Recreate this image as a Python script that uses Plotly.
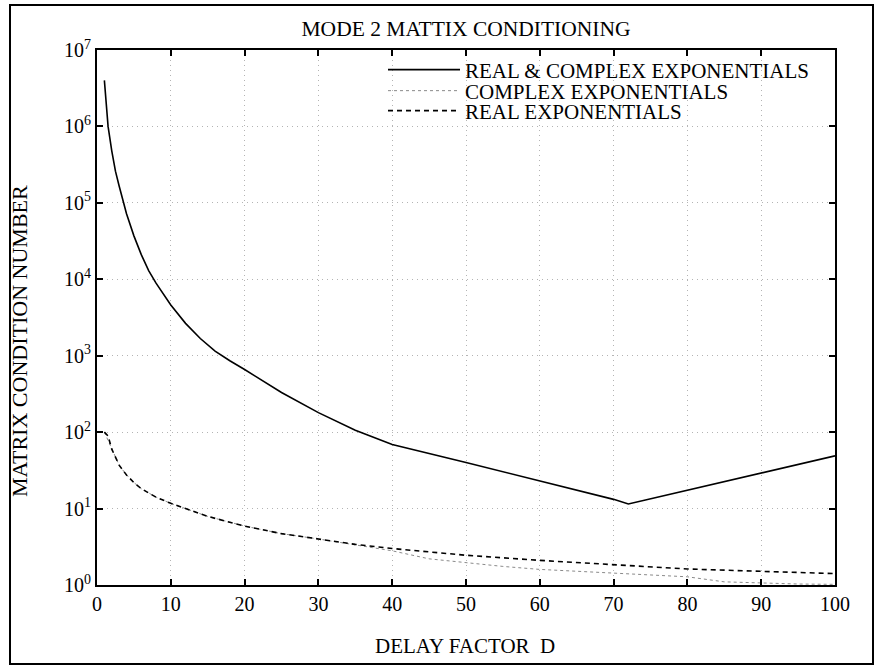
import plotly.graph_objects as go

# ---- data ----
d_both = [1, 1.5, 2, 2.5, 3, 4, 5, 6, 7, 8, 10, 12, 14, 16, 18, 20, 25, 30, 35, 40, 50, 60, 70, 72, 80, 90, 100]
cond_both = [4.0e6, 1.0e6, 4.8e5, 2.6e5, 1.66e5, 7.2e4, 3.7e4, 2.1e4, 1.3e4, 8.9e3, 4.6e3, 2.65e3,
             1.68e3, 1.15e3, 860, 660, 330, 180, 106, 69, 40, 23, 13.2, 11.5, 17.4, 29.5, 49]

d_complex = [1, 2, 3, 4, 5, 6, 8, 10, 12, 15, 20, 25, 30, 35, 40, 45, 50, 55, 60, 70, 80, 85, 90, 95, 100]
cond_complex = [100, 60, 37, 27.5, 21.9, 18.2, 14.1, 11.7, 10.0, 7.9, 5.9, 4.7, 4.0, 3.35, 2.8, 2.2, 1.95,
                1.75, 1.6, 1.43, 1.28, 1.1, 1.06, 1.03, 1.02]

d_real = [1, 1.5, 2, 3, 4, 5, 6, 8, 10, 12, 15, 20, 25, 30, 35, 40, 50, 60, 70, 80, 90, 100]
cond_real = [100, 89, 60, 37, 27.5, 21.9, 18.2, 14.1, 11.7, 10.0, 7.9, 5.9, 4.7, 4.0, 3.4, 3.0, 2.45,
             2.1, 1.86, 1.62, 1.51, 1.41]

names = ["REAL & COMPLEX EXPONENTIALS", "COMPLEX EXPONENTIALS", "REAL EXPONENTIALS"]

x_ticks = [0, 10, 20, 30, 40, 50, 60, 70, 80, 90, 100]
y_tickvals = [1, 10, 100, 1e3, 1e4, 1e5, 1e6, 1e7]
y_ticktext = ["10<sup>0</sup>", "10<sup>1</sup>", "10<sup>2</sup>", "10<sup>3</sup>",
              "10<sup>4</sup>", "10<sup>5</sup>", "10<sup>6</sup>", "10<sup>7</sup>"]

FONT = "Liberation Serif, Times New Roman, serif"

fig = go.Figure()
fig.add_trace(go.Scatter(x=d_both, y=cond_both, mode="lines", name=names[0],
                         line=dict(color="black", width=1.6), legend="legend"))
fig.add_trace(go.Scatter(x=d_complex, y=cond_complex, mode="lines", name=names[1],
                         line=dict(color="#8a8a8a", width=1, dash="dot"), legend="legend2"))
fig.add_trace(go.Scatter(x=d_real, y=cond_real, mode="lines", name=names[2],
                         line=dict(color="black", width=1.6, dash="5px,4px"), legend="legend3"))

axis_common = dict(showline=True, linecolor="black", linewidth=2, mirror="ticks",
                   ticks="inside", ticklen=6, tickwidth=1.5, tickcolor="black",
                   showgrid=True, gridcolor="#b4b4b4", griddash="1px,4px", gridwidth=1,
                   zeroline=False, tickfont=dict(family=FONT, size=20, color="black"))

fig.update_xaxes(range=[0, 100], tickvals=x_ticks, **axis_common)
fig.update_yaxes(type="log", range=[0, 7], tickvals=y_tickvals, ticktext=y_ticktext, **axis_common)

leg = dict(x=(383 - 97) / 738, xanchor="left", yanchor="middle", bgcolor="rgba(0,0,0,0)",
           borderwidth=0, itemwidth=72, font=dict(family=FONT, size=21, color="black"))
fig.update_layout(
    width=878, height=667,
    margin=dict(l=97, r=43, t=50, b=82),
    paper_bgcolor="white", plot_bgcolor="white",
    font=dict(family=FONT, color="black"),
    showlegend=True,
    title=dict(text="MODE 2 MATTIX CONDITIONING", x=0.5, xref="paper", y=1 - 28 / 667,
               yref="container", yanchor="middle", font=dict(family=FONT, size=21.5, color="black")),
    legend=dict(y=(585 - 70) / 535, visible=True, **leg),
    legend2=dict(y=(585 - 91) / 535, visible=True, **leg),
    legend3=dict(y=(585 - 111) / 535, visible=True, **leg),
    annotations=[
        dict(text="DELAY FACTOR&nbsp; D", xref="paper", yref="paper", x=(465 - 97) / 738,
             y=(585 - 646) / 535, xanchor="center", yanchor="middle", showarrow=False,
             font=dict(family=FONT, size=21, color="black")),
        dict(text="MATRIX CONDITION NUMBER", xref="paper", yref="paper", x=(19 - 97) / 738,
             y=(585 - 341) / 535, xanchor="center", yanchor="middle", textangle=-90,
             showarrow=False, font=dict(family=FONT, size=22, color="black")),
    ],
    shapes=[dict(type="rect", xref="paper", yref="paper",
                 x0=(10 - 97) / 738, x1=(873 - 97) / 738,
                 y0=(585 - 664) / 535, y1=(585 - 5) / 535,
                 line=dict(color="black", width=2))],
)

fig.write_html("out.html")
